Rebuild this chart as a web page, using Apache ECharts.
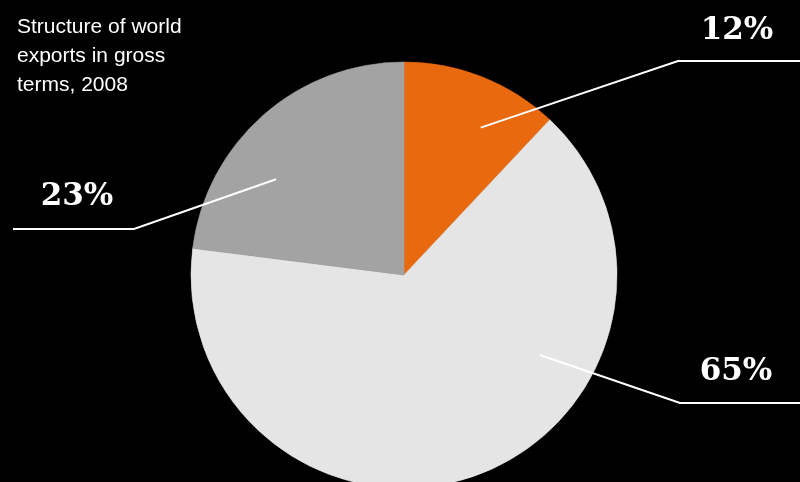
<!DOCTYPE html>
<html><head><meta charset="utf-8">
<script src="https://cdn.jsdelivr.net/npm/echarts@6/dist/echarts.min.js"></script>
<style>html,body{margin:0;padding:0;background:#000;}#c{width:800px;height:482px;}</style>
</head><body><div id="c"></div>
<script>
const categories = ['Category A', 'Category B', 'Category C'];
const values = [12, 65, 23];
const labels = ['12%', '65%', '23%'];
const titleText = 'Structure of world\nexports in gross\nterms, 2008';

const colors = ['#E8690E', '#E5E5E5', '#A3A3A3'];
const chart = echarts.init(document.getElementById('c'));
const cx = 404, cy = 275, R = 213;
// annotation layout: inner point angle (deg clockwise from top), radius fraction, elbow, end x, label pos
const ann = [
  {ang: 27.5, f: 0.78, elbow: [678, 61], endX: 800, lab: [737, 31]},
  {ang: 120.5, f: 0.74, elbow: [680, 403], endX: 800, lab: [736, 372]},
  {ang: 306.8, f: 0.75, elbow: [134, 229], endX: 13, lab: [77, 197]}
];
chart.setOption({
  backgroundColor: '#000',
  title: {
    text: titleText, left: 12, top: 8,
    textStyle: {color: '#fff', fontFamily: 'Liberation Sans', fontSize: 21, fontWeight: 'normal', lineHeight: 29}
  },
  series: [{
    type: 'pie',
    center: [cx, cy], radius: R,
    startAngle: 90, clockwise: true,
    animation: false, silent: true,
    data: categories.map((c, i) => ({name: c, value: values[i],
      itemStyle: {color: colors[i], borderColor: colors[i], borderWidth: 0.6}})),
    label: {show: false}, labelLine: {show: false}
  }, {
    type: 'pie', z: 5,
    center: [cx, cy], radius: R,
    startAngle: 90, clockwise: true,
    animation: false, silent: true,
    data: categories.map((c, i) => ({name: c, value: values[i]})),
    itemStyle: {color: 'rgba(0,0,0,0)', borderWidth: 0},
    label: {
      show: true, position: 'outside',
      formatter: p => labels[p.dataIndex],
      color: '#fff', fontFamily: 'DejaVu Serif', fontWeight: 'bold', fontSize: 31
    },
    labelLine: {show: true, lineStyle: {color: '#FFFFFF', width: 2}},
    labelLayout: function (p) {
      const a = ann[p.dataIndex];
      const rad = a.ang * Math.PI / 180;
      const p0 = [cx + Math.sin(rad) * R * a.f, cy - Math.cos(rad) * R * a.f];
      return {
        x: a.lab[0], y: a.lab[1], align: 'center', verticalAlign: 'middle',
        labelLinePoints: [p0, a.elbow, [a.endX, a.elbow[1]]]
      };
    }
  }]
});
</script></body></html>
